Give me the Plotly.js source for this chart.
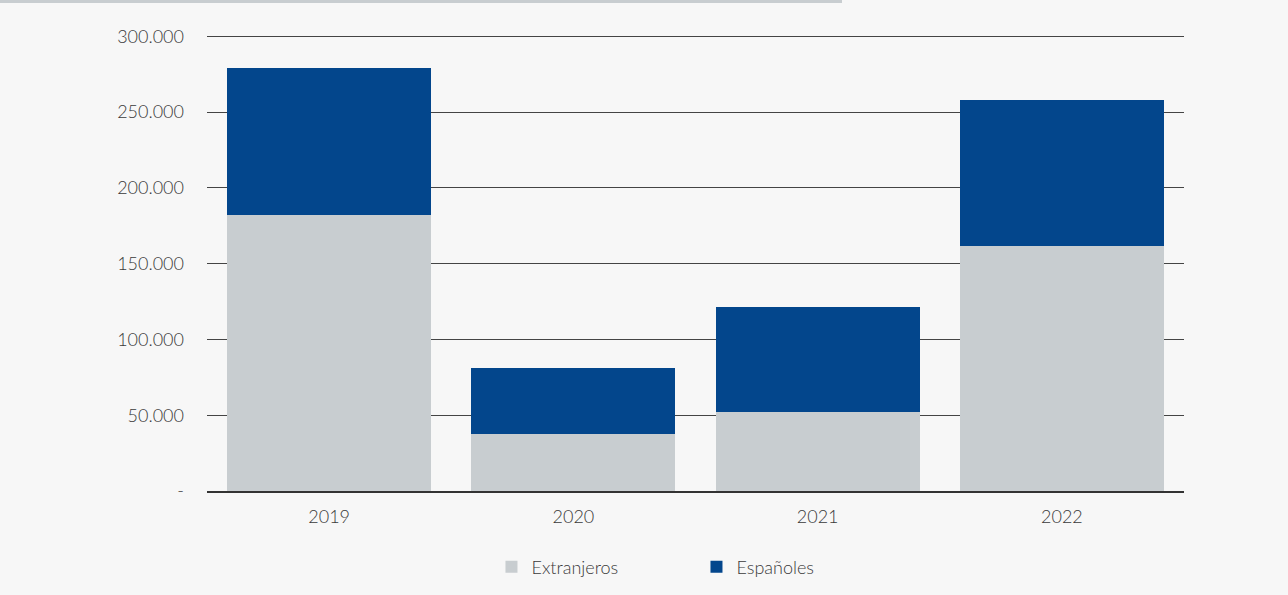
<!DOCTYPE html>
<html>
<head>
<meta charset="utf-8">
<script src="https://cdn.plot.ly/plotly-3.0.1.min.js"></script>
<style>
html,body{margin:0;padding:0;background:#f7f7f7;}
#strip{position:absolute;left:0;top:0;width:842px;height:3px;background:#c8cdd0;z-index:10;}
#chart{width:1288px;height:595px;}
</style>
</head>
<body>
<div id="strip"></div>
<div id="chart"></div>
<script>
const years = ['2019', '2020', '2021', '2022'];
const extranjeros = [182000, 37600, 52100, 161500];
const espanoles = [97000, 43500, 69200, 96300];
const tickVals = [0, 50000, 100000, 150000, 200000, 250000, 300000];
const tickText = ['-', '50.000', '100.000', '150.000', '200.000', '250.000', '300.000'];

const fontFam = 'Lato, "Noto Sans", sans-serif';
const data = [
  {type: 'bar', name: 'Extranjeros', x: years, y: extranjeros,
   marker: {color: '#c8cdd0', line: {width: 0}}},
  {type: 'bar', name: 'Españoles', x: years, y: espanoles,
   marker: {color: '#03468c', line: {width: 0}}}
];
const layout = {
  width: 1288, height: 595,
  paper_bgcolor: '#f7f7f7', plot_bgcolor: '#f7f7f7',
  barmode: 'stack', bargap: 0.165,
  margin: {l: 207, r: 104, t: 34, b: 104, autoexpand: false},
  font: {family: fontFam, size: 18, color: '#3a3a3a', weight: 300},
  xaxis: {showgrid: false, showline: true, linecolor: '#333', linewidth: 2,
          ticks: '', tickfont: {size: 18, color: '#3a3a3a'}, ticklabelstandoff: 8},
  yaxis: {range: [0, 301500], tickvals: tickVals, ticktext: tickText,
          showgrid: true, gridcolor: '#444', gridwidth: 1, zeroline: false,
          showline: false, ticks: '', ticklabelstandoff: 22,
          tickfont: {size: 18, color: '#3a3a3a'}},
  legend: {orientation: 'h', x: 0.501, xanchor: 'center', yref: 'container',
           y: 0.047, yanchor: 'middle',
           font: {size: 18, color: '#3a3a3a'}, entrywidth: 160, traceorder: 'normal',
           bgcolor: 'rgba(0,0,0,0)'},
  showlegend: true
};
Plotly.newPlot('chart', data, layout, {displayModeBar: false, staticPlot: true});
</script>
</body>
</html>
